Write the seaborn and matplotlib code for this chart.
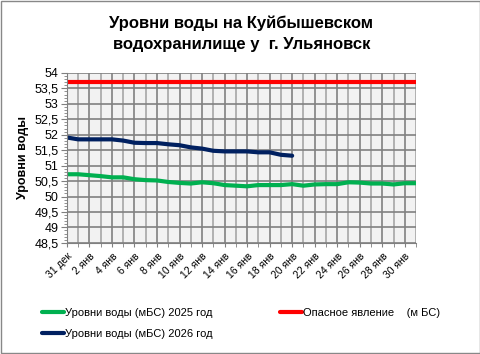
import numpy as np
import pandas as pd
import seaborn as sns
import matplotlib.pyplot as plt
from matplotlib.patches import Rectangle
from matplotlib.ticker import MultipleLocator

# Dates along the x axis
dates = ["31 дек"] + [f"{d} янв" for d in range(1, 32)]

# Water levels (m BS)
level_2025 = [50.72, 50.72, 50.69, 50.66, 50.62, 50.62, 50.56, 50.53, 50.52, 50.47,
              50.44, 50.42, 50.46, 50.43, 50.37, 50.35, 50.33, 50.37, 50.37, 50.37,
              50.40, 50.35, 50.39, 50.40, 50.40, 50.46, 50.45, 50.42, 50.42, 50.39,
              50.43, 50.43]
level_2026 = [51.91, 51.85, 51.85, 51.85, 51.85, 51.81, 51.74, 51.73, 51.73, 51.69,
              51.66, 51.59, 51.55, 51.48, 51.46, 51.46, 51.46, 51.43, 51.43, 51.35,
              51.32]
danger_level = 53.72

labels = ["Уровни воды (мБС) 2025 год", "Уровни воды (мБС) 2026 год", "Опасное явление    (м БС)"]

df = pd.DataFrame({"pos": range(len(dates)), "date": dates})
df["y2025"] = level_2025
df["y2026"] = level_2026 + [np.nan] * (len(dates) - len(level_2026))
df["danger"] = danger_level

sns.set_style("white")
plt.rcParams["font.family"] = ["Liberation Sans", "DejaVu Sans"]
plt.rcParams["text.color"] = "black"
plt.rcParams["axes.labelcolor"] = "black"
plt.rcParams["xtick.color"] = "black"
plt.rcParams["ytick.color"] = "black"

fig = plt.figure(figsize=(4.81, 3.54), dpi=100)
ax = fig.add_axes([0.139, 0.314, 0.726, 0.48])
ax.set_facecolor("#f2f2f2")

sns.lineplot(data=df, x="pos", y="y2025", color="#00b050", lw=3, ax=ax, label=labels[0])
sns.lineplot(data=df, x="pos", y="y2026", color="#002060", lw=3, ax=ax, label=labels[1])
sns.lineplot(data=df, x="pos", y="danger", color="#ff0000", lw=3, ax=ax, label=labels[2])

ax.set_xlim(0, len(dates) - 1)
ax.set_ylim(48.5, 54)
ax.yaxis.set_major_locator(MultipleLocator(0.5))
ax.yaxis.set_minor_locator(MultipleLocator(0.1))
ax.set_yticklabels([f"{v:g}".replace(".", ",") for v in ax.get_yticks()], fontsize=9)

ax.set_xticks(range(0, len(dates), 2))
ax.set_xticklabels(dates[::2], rotation=45, ha="right", rotation_mode="anchor", fontsize=7.5)
ax.set_xticks(range(1, len(dates), 2), minor=True)

ax.grid(True, which="major", color="#808080", lw=1.2)
ax.grid(True, which="minor", axis="x", color="#a6a6a6", lw=1.2)
ax.set_axisbelow(True)
ax.tick_params(axis="y", which="both", left=True, length=4, color="#808080", pad=2)
ax.tick_params(axis="y", which="minor", length=2.5)
ax.tick_params(axis="x", which="both", bottom=True, length=3, color="#808080", pad=3)

for s in ["top", "right"]:
    ax.spines[s].set_visible(False)
for s in ["left", "bottom"]:
    ax.spines[s].set_color("#808080")

ax.set_xlabel("")
ax.set_ylabel("Уровни воды", fontsize=9, fontweight="bold", labelpad=4)
ax.set_title("Уровни воды на Куйбышевском\nводохранилище у  г. Ульяновск",
             fontsize=12, fontweight="bold", pad=17, linespacing=1.55)

ax.legend(loc="upper left", bbox_to_anchor=(-0.10, -0.325), ncol=2, frameon=False,
          fontsize=8, handlelength=2, columnspacing=6, handletextpad=0.1,
          labelspacing=1.0)

fig.patches.append(Rectangle((0.002, 0.003), 0.995, 0.994, transform=fig.transFigure,
                             fill=False, edgecolor="#888888", lw=1))

plt.savefig("out.png", dpi=100)
